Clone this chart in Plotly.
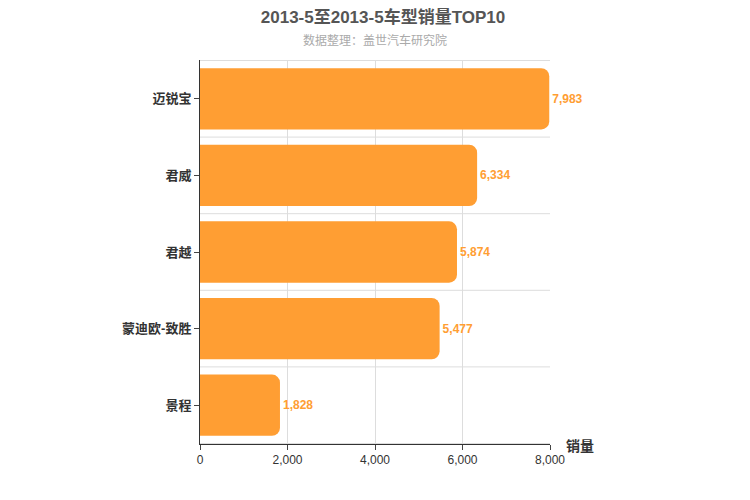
import plotly.graph_objects as go

# data
models = ["迈锐宝", "君威", "君越", "蒙迪欧-致胜", "景程"]
sales = [7983, 6334, 5874, 5477, 1828]
x_ticks = [0, 2000, 4000, 6000, 8000]

bar_color = "#FF9E33"

fig = go.Figure(go.Bar(
    x=sales, y=models, orientation="h",
    marker=dict(color=bar_color, cornerradius=8, line=dict(width=0)),
    width=0.8,
    text=[f"<b>{v:,}</b>" for v in sales], textposition="outside",
    textfont=dict(color=bar_color, size=12, family="Arial"),
    cliponaxis=False,
))

# horizontal separators between categories
n = len(models)
for i in range(n + 1):
    fig.add_shape(type="line", xref="paper", yref="y", x0=0, x1=1,
                  y0=i - 0.5, y1=i - 0.5, line=dict(color="#dddddd", width=1))

fig.update_layout(
    width=750, height=500,
    plot_bgcolor="white", paper_bgcolor="white",
    margin=dict(l=192, r=208, t=52, b=64, autoexpand=False),
    showlegend=False,
    font=dict(family="Arial, Noto Sans CJK SC", color="#333"),
    title=dict(text="<b>2013-5至2013-5车型销量TOP10</b>", x=0.5, xanchor="center",
               yref="container", y=0.982, yanchor="middle",
               font=dict(size=17, color="#555")),
    annotations=[
        dict(text="数据整理：盖世汽车研究院", xref="paper", yref="paper",
             x=0.5, y=1.0 + 20 / 384, xanchor="center", yanchor="middle",
             showarrow=False, font=dict(size=12, color="#aaa")),
        dict(text="<b>销量</b>", xref="paper", yref="paper", x=1.04, y=-0.005,
             xanchor="left", yanchor="middle", showarrow=False,
             font=dict(size=14, color="#333")),
    ],
)
fig.update_xaxes(range=[0, 8000], tickvals=x_ticks, tickformat=",",
                 showgrid=True, gridcolor="#dddddd", zeroline=False,
                 showline=True, linecolor="#333", ticks="outside", ticklen=5,
                 tickfont=dict(size=12), automargin=False)
fig.update_yaxes(autorange="reversed", showgrid=False,
                 showline=True, linecolor="#333", ticks="outside", ticklen=5,
                 tickfont=dict(size=13, color="#333"), automargin=False,
                 tickvals=models, ticktext=[f"<b>{m}</b>" for m in models])

fig.write_html("out.html")
